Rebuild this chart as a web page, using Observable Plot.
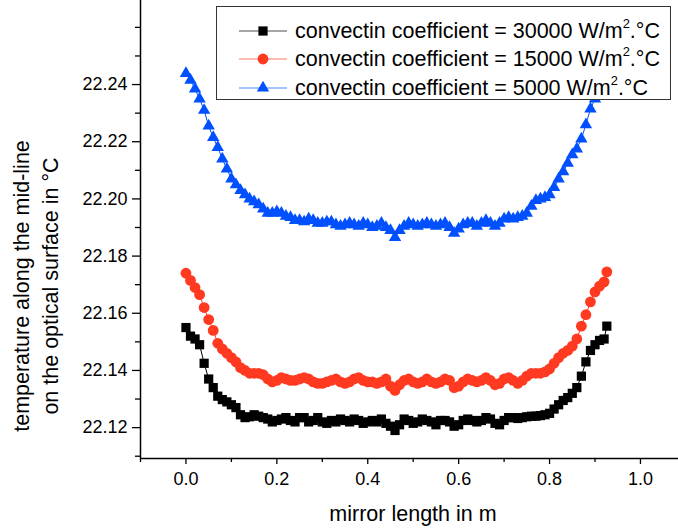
<!DOCTYPE html>
<html>
<head>
<meta charset="utf-8">
<script src="https://cdn.jsdelivr.net/npm/d3@7"></script>
<script src="https://cdn.jsdelivr.net/npm/@observablehq/plot@0.6"></script>
<style>
  html, body { margin: 0; padding: 0; background: #fff; }
  #wrap { position: relative; width: 678px; height: 528px; font-family: "Liberation Sans", Arial, sans-serif; color: #000; overflow: hidden; }
  #legend { position: absolute; left: 216px; top: 6px; width: 455px; height: 94px; border: 1.3px solid #333; background: #fff; box-sizing: border-box; }
  .row { position: absolute; left: 22px; height: 29px; display: flex; align-items: center; font-size: 21.5px; white-space: nowrap; }
  .row svg { margin-right: 6px; }
  sup { font-size: 0.6em; line-height: 0; position: relative; top: -0.1em; }
  #ytitle { position: absolute; left: 37px; top: 286px; transform: translate(-50%, -50%) rotate(-90deg); font-size: 21.5px; text-align: center; line-height: 29px; white-space: nowrap; }
  #xtitle { position: absolute; left: 413px; top: 502px; transform: translateX(-50%); font-size: 21.5px; white-space: nowrap; }
</style>
</head>
<body>
<div id="wrap">
  <div id="chart"></div>
  <div id="ytitle">temperature along the mid-line<br>on the optical surface in °C</div>
  <div id="xtitle">mirror length in m</div>
  <div id="legend"></div>
</div>
<script>
// x positions along the mirror (m)
const xs = [0.00,0.01,0.02,0.03,0.04,0.05,0.06,0.07,0.08,0.09,
            0.10,0.11,0.12,0.13,0.14,0.15,0.16,0.17,0.18,0.19,
            0.20,0.21,0.22,0.23,0.24,0.25,0.26,0.27,0.28,0.29,
            0.30,0.31,0.32,0.33,0.34,0.35,0.36,0.37,0.38,0.39,
            0.40,0.41,0.42,0.43,0.44,0.45,0.46,0.47,0.48,0.49,
            0.50,0.51,0.52,0.53,0.54,0.55,0.56,0.57,0.58,0.59,
            0.60,0.61,0.62,0.63,0.64,0.65,0.66,0.67,0.68,0.69,
            0.70,0.71,0.72,0.73,0.74,0.75,0.76,0.77,0.78,0.79,
            0.80,0.81,0.82,0.83,0.84,0.85,0.86,0.87,0.88,0.89,
            0.90,0.91,0.92,0.926];

// convection coefficient = 30000 W/m2.°C
const h30000 = [22.155,22.152,22.151,22.149,22.1425,22.137,22.134,22.131,22.1298,22.129,
                22.128,22.127,22.1245,22.1235,22.1238,22.1245,22.124,22.1235,22.123,22.122,
                22.1225,22.123,22.1235,22.1225,22.122,22.1235,22.1235,22.122,22.1225,22.1235,
                22.122,22.1215,22.1225,22.122,22.123,22.1225,22.122,22.123,22.1225,22.1215,
                22.122,22.1225,22.122,22.123,22.1215,22.1205,22.119,22.121,22.123,22.1225,
                22.1215,22.122,22.123,22.1225,22.122,22.121,22.1225,22.1225,22.122,22.1205,
                22.121,22.1225,22.123,22.1225,22.122,22.1225,22.1235,22.123,22.1215,22.121,
                22.1225,22.1235,22.1235,22.1232,22.1235,22.1238,22.124,22.124,22.1242,22.1245,
                22.125,22.1265,22.128,22.1295,22.1305,22.132,22.134,22.138,22.143,22.147,
                22.149,22.1505,22.151,22.1555];

// convection coefficient = 15000 W/m2.°C
const h15000 = [22.174,22.1715,22.169,22.1665,22.162,22.1578,22.154,22.1495,22.1475,22.146,
                22.1445,22.143,22.141,22.14,22.139,22.139,22.139,22.1385,22.137,22.136,
                22.1365,22.1375,22.137,22.1365,22.1365,22.137,22.1375,22.137,22.136,22.1355,
                22.1355,22.136,22.1365,22.137,22.136,22.1355,22.136,22.137,22.1375,22.1365,
                22.136,22.136,22.1355,22.136,22.137,22.1345,22.133,22.135,22.1365,22.137,
                22.136,22.1355,22.136,22.137,22.136,22.1355,22.136,22.137,22.1365,22.134,
                22.1345,22.136,22.137,22.1365,22.136,22.1365,22.1375,22.1365,22.135,22.1355,
                22.137,22.1375,22.1365,22.1355,22.1365,22.138,22.139,22.139,22.139,22.1395,
                22.1405,22.1425,22.1445,22.146,22.147,22.1485,22.151,22.1555,22.1595,22.164,
                22.1675,22.1695,22.171,22.1745];

// convection coefficient = 5000 W/m2.°C
const h5000 = [22.2439,22.2415,22.2385,22.235,22.231,22.2255,22.2215,22.218,22.214,22.2105,
               22.207,22.205,22.203,22.2015,22.2,22.199,22.198,22.1965,22.195,22.195,
               22.1955,22.195,22.194,22.1935,22.1925,22.1925,22.192,22.193,22.1925,22.1915,
               22.1915,22.192,22.192,22.191,22.1905,22.191,22.1915,22.191,22.1905,22.1915,
               22.191,22.19,22.1905,22.1915,22.19,22.189,22.1865,22.189,22.1905,22.1915,
               22.191,22.1905,22.191,22.1915,22.191,22.1905,22.191,22.1915,22.19,22.188,
               22.1895,22.191,22.1915,22.1915,22.1905,22.1915,22.1925,22.1915,22.1905,22.1915,
               22.193,22.1935,22.193,22.1935,22.194,22.195,22.1975,22.1995,22.2,22.2005,
               22.2015,22.204,22.207,22.2095,22.2125,22.2155,22.2175,22.221,22.226,22.2315,
               22.235,22.239,22.2425,22.2445];

const seriesNames = ["30000", "15000", "5000"];
const seriesColors = ["#000000", "#ff3a20", "#0050ff"];
const seriesSymbols = ["square", "circle", "triangle"];
const seriesR = [5.2, 5.4, 4.6];

const xMajor = [0.0, 0.2, 0.4, 0.6, 0.8, 1.0];
const xMinor = [-0.1, 0.1, 0.3, 0.5, 0.7, 0.9];
const yMajor = [22.12, 22.14, 22.16, 22.18, 22.20, 22.22, 22.24];
const yMinor = [22.11, 22.13, 22.15, 22.17, 22.19, 22.21, 22.23, 22.25, 22.26];

const allSeries = [h30000, h15000, h5000];
const data = allSeries.flatMap((vals, k) => vals.map((v, i) => ({x: xs[i], y: v, s: seriesNames[k]})));

const yLo = 22.1092, yHi = 22.2694, xLo = -0.1, xHi = 1.0837;

const marks = [
  Plot.axisX({ticks: xMajor, tickSize: 6, tickPadding: 8, tickFormat: d => d.toFixed(1), label: null, fontSize: 18, strokeWidth: 1.3}),
  Plot.axisX({ticks: xMinor, tickSize: 4, tickFormat: () => "", label: null, strokeWidth: 1.3}),
  Plot.axisY({ticks: yMajor, tickSize: 8, tickPadding: 5, tickFormat: d => d.toFixed(2), label: null, fontSize: 18, strokeWidth: 1.3}),
  Plot.axisY({ticks: yMinor, tickSize: 5, tickFormat: () => "", label: null, strokeWidth: 1.3}),
  Plot.ruleX([xLo], {y1: yLo, y2: yHi, stroke: "#000", strokeWidth: 1.5}),
  Plot.ruleY([yLo], {x1: xLo, x2: xHi, stroke: "#000", strokeWidth: 1.5})
];
seriesNames.forEach((name, k) => {
  const d = data.filter(p => p.s === name);
  marks.push(Plot.line(d, {x: "x", y: "y", stroke: seriesColors[k], strokeWidth: 1}));
  marks.push(Plot.dot(d, {x: "x", y: "y", symbol: () => seriesSymbols[k], fill: seriesColors[k], stroke: "none", r: seriesR[k]}));
});

const chart = Plot.plot({
  width: 678, height: 528,
  marginLeft: 140, marginRight: 0, marginTop: 0, marginBottom: 70,
  style: {fontFamily: '"Liberation Sans", Arial, sans-serif', fontSize: "18px", color: "#000", background: "#fff"},
  x: {domain: [xLo, xHi]},
  y: {domain: [yLo, yHi]},
  symbol: {domain: seriesSymbols, range: seriesSymbols},
  marks
});
document.getElementById("chart").appendChild(chart);

// legend
const legend = document.getElementById("legend");
const legendTops = [24, 52, 81];
seriesNames.forEach((name, k) => {
  const row = document.createElement("div");
  row.className = "row";
  row.style.top = (legendTops[k] - 14.5) + "px";
  const sym = d3.symbol(seriesSymbols[k] === "square" ? d3.symbolSquare : seriesSymbols[k] === "circle" ? d3.symbolCircle : d3.symbolTriangle, Math.PI * seriesR[k] * seriesR[k])();
  row.innerHTML = `<svg width="50" height="20"><line x1="0" x2="48" y1="10" y2="10" stroke="${seriesColors[k]}" stroke-opacity="0.7" stroke-width="1"/><path d="${sym}" transform="translate(24,10)" fill="${seriesColors[k]}"/></svg><span>convectin coefficient = ${name} W/m<sup>2</sup>.°C</span>`;
  legend.appendChild(row);
});
</script>
</body>
</html>
